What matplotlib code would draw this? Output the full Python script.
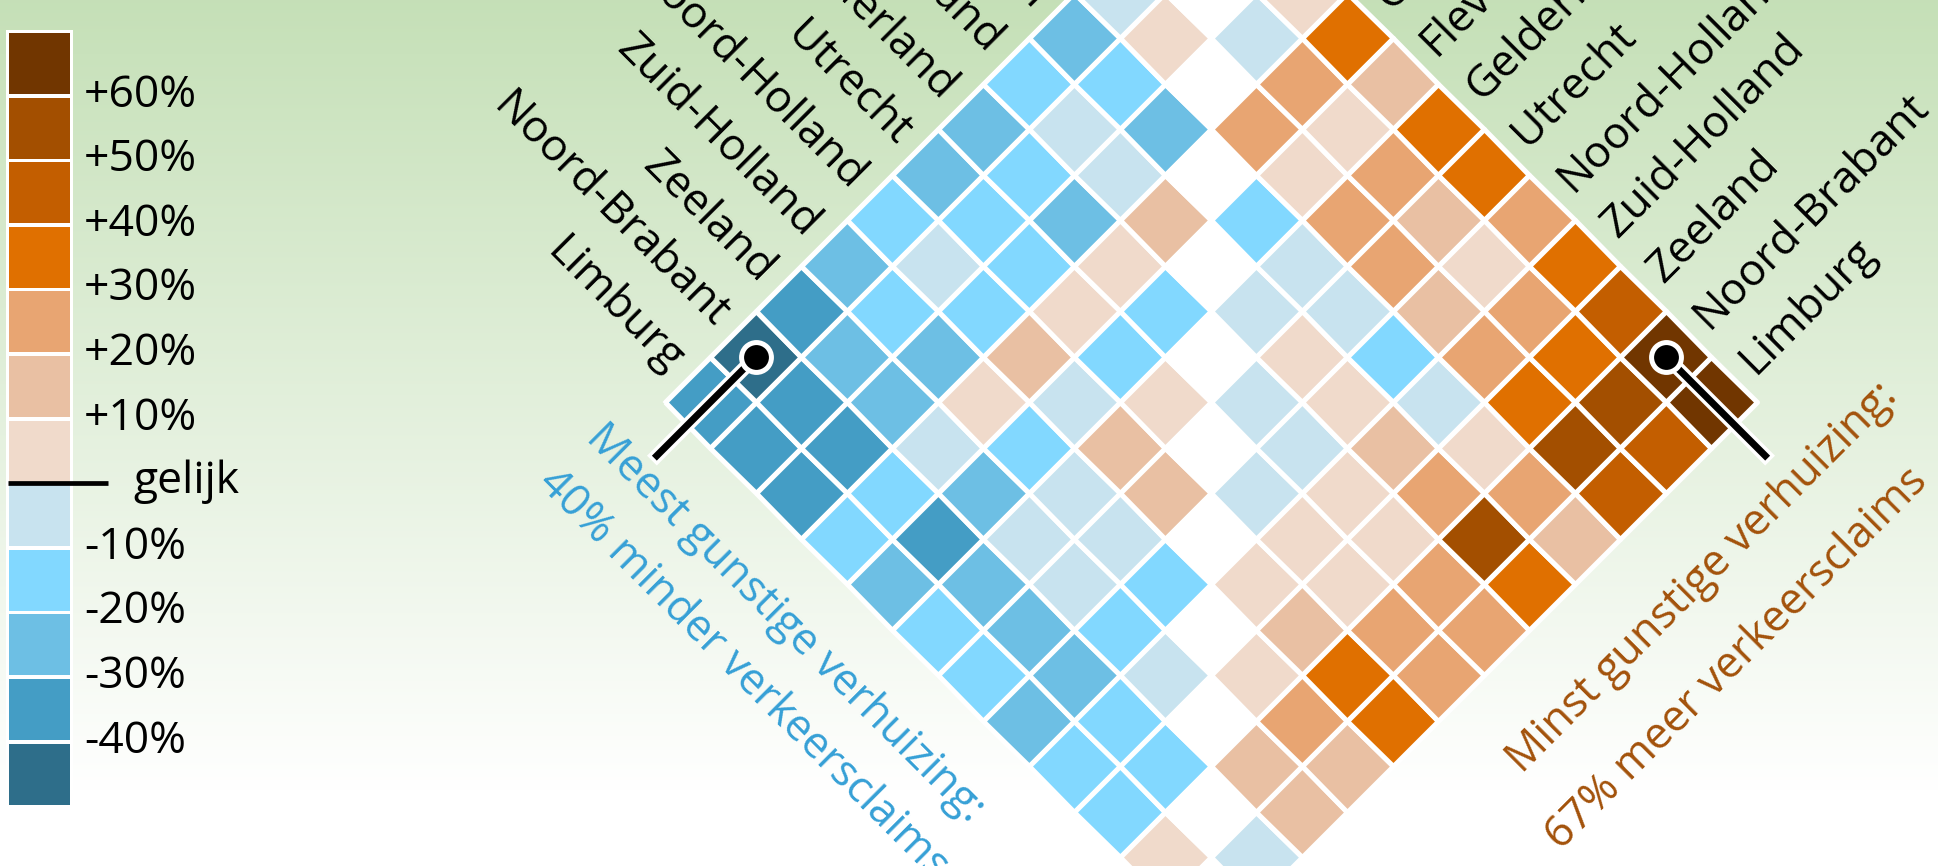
import numpy as np
import matplotlib
matplotlib.use("Agg")
import matplotlib.pyplot as plt
from matplotlib.colors import ListedColormap, BoundaryNorm
from matplotlib.transforms import Affine2D
from matplotlib.patches import Rectangle, Polygon
import matplotlib.patheffects as pe

plt.rcParams['font.family'] = ['Open Sans', 'DejaVu Sans']

# ---------------- data ----------------
provinces = ["Groningen", "Friesland", "Drenthe", "Overijssel", "Flevoland",
             "Gelderland", "Utrecht", "Noord-Holland", "Zuid-Holland",
             "Zeeland", "Noord-Brabant", "Limburg"]

nan = np.nan
# change in traffic claims (%) ; row = province on upper-left edge, column = province on upper-right edge
change = [
    [nan,   nan,   5,  35,  15,  35,  35,  25,  35,  45,  67,  65],   # Groningen
    [nan,   nan,  -5,  25,   5,  25,  15,   5,  25,  35,  55,  45],   # Friesland
    [ -5,     5, nan,  25,   5,  25,  25,  15,  25,  35,  55,  45],   # Drenthe
    [-25,   -15, -25, nan, -15,  -5,  -5, -15,  -5,   5,  25,  15],   # Overijssel
    [-15,    -5,  -5,  15, nan,  -5,   5,   5,  15,  25,  55,  35],   # Flevoland
    [-25,   -15, -25,   5, -15, nan,  -5,  -5,   5,   5,  25,  25],   # Gelderland
    [-25,   -15, -15,   5, -15,   5, nan,  -5,   5,   5,  25,  25],   # Utrecht
    [-15,    -5, -15,  15,  -5,  15,  15, nan,   5,  15,  35,  35],   # Noord-Holland
    [-25,   -15, -25,   5, -15,  -5,  -5, -15, nan,   5,  25,  15],   # Zuid-Holland
    [-35,   -25, -25,  -5, -25,  -5,  -5, -15,  -5, nan,  15,  15],   # Zeeland
    [-40.4, -35, -35, -15, -35, -25, -25, -25, -15, -15, nan,  -5],   # Noord-Brabant
    [-35,   -35, -35, -15, -25, -15, -15, -25, -15, -15,   5, nan],   # Limburg
]

class_bounds = [-100, -40, -30, -20, -10, 0, 10, 20, 30, 40, 50, 60, 100]
class_colors = ['#2e6e8a', '#449dc5', '#6dbfe4', '#82d8ff', '#c8e3ef', '#f0dacb',
                '#e9c0a3', '#e8a572', '#e07000', '#c35e00', '#a34f00', '#713600']
legend_labels = ['+60%', '+50%', '+40%', '+30%', '+20%', '+10%', 'gelijk',
                 '-10%', '-20%', '-30%', '-40%']

# ---------------- figure ----------------
W, H = 1938, 866
fig = plt.figure(figsize=(W / 100, H / 100), dpi=100)
ax = fig.add_axes([0, 0, 1, 1])
ax.set_xlim(0, W)
ax.set_ylim(H, 0)
ax.axis('off')

# background gradient (green -> white)
yy = np.arange(H)[:, None]
top = np.array([0.773, 0.878, 0.718])
frac = np.clip(yy / 790.0, 0, 1)[..., None]
bg = top + (1 - top) * frac
bg = np.repeat(bg, 2, axis=1)
ax.imshow(bg, extent=[0, W, H, 0], aspect='auto', zorder=0, interpolation='bilinear')

# ---------------- rotated matrix ----------------
n = len(provinces)
k = 45.5                      # half cell diagonal (px)
x0, y0 = 665, 402             # left corner of the diamond
T = Affine2D.from_values(k, k, k, -k, x0, y0) + ax.transData
p = k * np.sqrt(2)

A = np.array(change, dtype=float)
grid = A[::-1, :]             # grid row r = province index n-1-r

cmap = ListedColormap(class_colors)
cmap.set_bad((0, 0, 0, 0))
norm = BoundaryNorm(class_bounds, cmap.N)

ax.add_patch(Polygon([(0, 0), (n, 0), (n, n), (0, n)], closed=True,
                     facecolor='white', edgecolor='white', lw=2.5,
                     transform=T, zorder=1))
ax.pcolormesh(np.arange(n + 1), np.arange(n + 1), np.ma.masked_invalid(grid),
              cmap=cmap, norm=norm, edgecolors='white', linewidth=3.6,
              transform=T, zorder=2, antialiased=True)

fs = 32
gap = 17 / p
for r in range(n):
    ax.text(-gap, r + 0.5, provinces[n - 1 - r], transform=T, rotation=-45,
            rotation_mode='anchor', ha='right', va='center', fontsize=fs,
            color='black', zorder=3)
for c in range(n):
    ax.text(c + 0.5, n + gap, provinces[c], transform=T, rotation=45,
            rotation_mode='anchor', ha='left', va='center', fontsize=fs,
            color='black', zorder=3)

# extremes
imin = np.unravel_index(np.nanargmin(A), A.shape)
imax = np.unravel_index(np.nanargmax(A), A.shape)
lead = 2.18
outline = [pe.Stroke(linewidth=10, foreground='white', capstyle='projecting'), pe.Normal()]
cmn = (imin[1] + 0.5, n - 1 - imin[0] + 0.5)
cmx = (imax[1] + 0.5, n - 1 - imax[0] + 0.5)
ax.plot([cmn[0], cmn[0]], [cmn[1], cmn[1] - lead], transform=T, color='black', lw=5,
        solid_capstyle='projecting', path_effects=outline, zorder=4)
ax.plot([cmx[0], cmx[0] + lead], [cmx[1], cmx[1]], transform=T, color='black', lw=5,
        solid_capstyle='projecting', path_effects=outline, zorder=4)
for cc in (cmn, cmx):
    ax.plot(cc[0], cc[1], 'o', transform=T, ms=21.5, mfc='black', mec='white', mew=3.6, zorder=5)

blue_txt = '#36a0d6'
brown_txt = '#a3520b'
vmin = abs(np.nanmin(A))
vmax = np.nanmax(A)
afs = 31.5
ax.text(585, 439, "Meest gunstige verhuizing:", rotation=-45, rotation_mode='anchor',
        ha='left', va='baseline', fontsize=afs, color=blue_txt, zorder=3)
ax.text(537, 484, f"{vmin:.0f}% minder verkeersclaims", rotation=-45, rotation_mode='anchor',
        ha='left', va='baseline', fontsize=afs, color=blue_txt, zorder=3)
ax.text(1522, 774, "Minst gunstige verhuizing:", rotation=45, rotation_mode='anchor',
        ha='left', va='baseline', fontsize=afs, color=brown_txt, zorder=3)
ax.text(1561, 851, f"{vmax:.0f}% meer verkeersclaims", rotation=45, rotation_mode='anchor',
        ha='left', va='baseline', fontsize=afs, color=brown_txt, zorder=3)

# ---------------- legend ----------------
leg_top, leg_pitch, leg_h = 33, 64.6, 61
ax.add_patch(Rectangle((6.5, 29.5), 67, 779, facecolor='white', edgecolor='none', zorder=2))
tops = leg_top + leg_pitch * np.arange(len(class_colors))
ax.bar(np.full(len(tops), 40.0), np.full(len(tops), leg_h), width=61, bottom=tops,
       color=class_colors[::-1], edgecolor='none', zorder=3)
for i, lab in enumerate(legend_labels):
    yb = leg_top + leg_pitch * (i + 1) - 2
    if lab == 'gelijk':
        ax.plot([8, 108], [yb, yb], color='black', lw=3.4, solid_capstyle='butt', zorder=4)
        ax.text(133, yb + 10, lab, ha='left', va='baseline', fontsize=fs, zorder=4)
    else:
        ax.text(84, yb + 11, lab, ha='left', va='baseline', fontsize=fs, zorder=4)

fig.savefig("out.png", dpi=100)
